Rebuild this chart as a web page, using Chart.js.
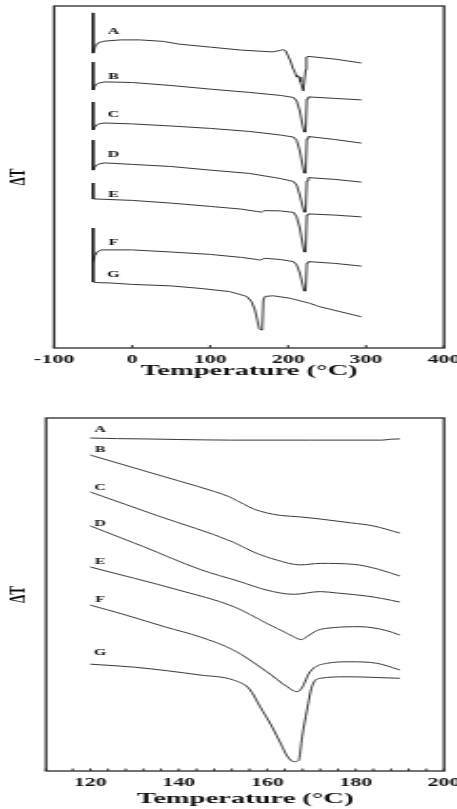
<!DOCTYPE html>
<html>
<head>
<meta charset="utf-8">
<script src="https://cdn.jsdelivr.net/npm/chart.js@4.4.1/dist/chart.umd.min.js"></script>
<style>
  body { margin: 0; background: #fff; }
  canvas { position: absolute; left: 0; }
</style>
</head>
<body>
<!-- the original figure is stretched sideways, so each chart is drawn narrow and widened by css -->
<canvas id="topChart" width="240" height="390" style="top:0px;width:457px;height:390px"></canvas>
<canvas id="bottomChart" width="240" height="419" style="top:390px;width:457px;height:419px"></canvas>
<script>
const curveNames = ['A', 'B', 'C', 'D', 'E', 'F', 'G'];

// full scan, -50 .. 300 C   [temperature, dT (arb. units)]
const topA = [[-50,111.7],[-50,98.3],[-47,100.7],[-43,101.8],[-35,102.3],[-15,102.7],[10,102.7],[40,102.2],[60,101.3],[100,100.3],[140,99.3],[180,98.7],[190,99.2],[194,99.5],[197,99],[200,97.3],[203,95.7],[206,93.3],[209,91.7],[211,90.3],[212.5,90.8],[214,90.3],[216,88.7],[218,87],[219.5,85.7],[221,85.7],[222.5,92.7],[223.5,97],[226,97.2],[260,96.3],[294,95]];
const topB = [[-50,95.3],[-50,86],[-47,87.7],[-43,88.3],[-35,88.7],[0,88.5],[50,87.5],[100,86.3],[150,85.2],[190,84.2],[207,83.5],[211,82.3],[215,79],[218.5,74.3],[220.5,72],[222.5,72],[224,83],[226,83.7],[260,83.2],[294,82.7]];
const topC = [[-50,82],[-50,72.7],[-47,74],[-43,74.7],[-35,75],[0,74.7],[50,74],[100,73.2],[150,72.2],[190,71],[207,70.3],[211,69.2],[215,65.7],[218.5,61],[220.5,58.3],[222.5,58.3],[224,69.7],[226,70.5],[260,69.5],[294,68.3]];
const topD = [[-50,69.3],[-50,59.3],[-47,60.7],[-43,61.3],[-35,61.7],[0,61.2],[50,60.5],[100,59.3],[150,58.2],[190,56.5],[207,55.5],[211,54.3],[215,51],[218.5,47.3],[220.5,45.3],[222.5,45.3],[224,55.7],[226,56.8],[260,56.2],[294,55.3]];
const topE = [[-50,55],[-50,49.7],[-40,49.6],[0,49.2],[50,48.3],[100,47.2],[140,46.3],[160,45.5],[166,45.3],[170,45.8],[190,45.7],[207,45.2],[211,43.7],[215,40],[218.5,35],[220.5,32],[222.5,32],[224,44.3],[226,44.7],[260,44.3],[294,43.7]];
const topF = [[-50,40],[-50,28.7],[-48,30.7],[-45,32],[-40,32.7],[0,32.7],[50,32],[100,31.2],[140,30.2],[160,29.5],[164,29.3],[170,29.9],[190,29.5],[207,28.8],[211,27.7],[215,25],[218.5,21.3],[220.5,19],[222.5,19],[224,28.3],[226,28.8],[260,28.2],[294,27.3]];
const topG = [[-50,28.7],[-50,22],[-45,21.8],[-30,21.7],[0,21.2],[50,20.7],[90,19.8],[125,18.8],[147,17.2],[153,15.5],[157.5,12.7],[160.5,9.3],[163,6.5],[165.3,6],[167,7.2],[168.3,16],[170.5,17.2],[181,17.4],[202,16.6],[228,14.9],[240,13.8],[294,10.4]];
const topTicks = [-100, 0, 100, 200, 300, 400];
const topLabelT = -24;
const topLabelY = [105.3, 90.3, 77.7, 64.3, 51, 35, 24.3];

// zoom on melting region, 120 .. 190 C
const botA = [[120,111],[126,110.8],[132,110.7],[140,110.5],[152,110.3],[170,110.3],[186,110.3],[188,110.6],[190,110.7]];
const botB = [[120,105.3],[130,101],[140,96.7],[148,93.2],[151.6,91.3],[154.6,89],[157,87.3],[160,86],[163,85.2],[167.5,84.7],[172,84],[179,82.7],[184,81.7],[190,79.3]];
const botC = [[120,93],[135,85.2],[152.3,76.3],[156.9,73],[162.2,70.3],[167.5,68.7],[172,69.2],[179.5,68.9],[185,67.3],[190,65]];
const botD = [[120,81.7],[132,74.8],[144.8,67.2],[153.9,63.1],[159.9,60.3],[166,58.9],[172,59.8],[176,59.3],[182.6,58.3],[186,57.5],[190,56.3]];
const botE = [[120,68],[140,60.3],[152.4,54.8],[159.9,49.2],[164.5,45.9],[166.7,44.2],[167.8,43.8],[169,44.8],[171.2,46.8],[175,47.8],[181,48.1],[187,46.8],[190,45.3]];
const botF = [[120,55.3],[128,52],[137,48],[144.8,44.7],[152.4,40.3],[159.9,33.1],[164.5,28.1],[166.7,26.4],[167.8,27.6],[169.7,33.1],[173.5,35.9],[178.8,36.4],[184.8,35.9],[190,33.7]];
const botG = [[120,35.6],[130,34.6],[144.8,32],[152.4,30.3],[156,27.3],[158.4,21.4],[161,15],[163.2,8.7],[164.5,5],[166,3.1],[167.1,3.5],[167.9,11.4],[169,20.3],[170.1,28.1],[172,30.9],[178,31.4],[190,30.9]];
const botTicks = [120, 140, 160, 180, 200];
const botLabelT = 122.2;
const botLabelY = [113.7, 107, 94.3, 82.3, 69.7, 57, 39.3];

const serif = '"Liberation Serif", "Times New Roman", serif';

// box round the plot, small inward ticks, and the A..G names
const framePlugin = {
  id: 'frame',
  afterDraw(chart, args, opts) {
    const ctx = chart.ctx;
    const a = chart.chartArea;
    const x = chart.scales.x, y = chart.scales.y;
    ctx.save();
    ctx.strokeStyle = '#2a2a2a';
    ctx.lineWidth = 1.3;
    ctx.strokeRect(a.left, a.top, a.right - a.left, a.bottom - a.top);
    ctx.lineWidth = 1;
    x.ticks.forEach(t => {
      const px = x.getPixelForValue(t.value);
      ctx.beginPath();
      ctx.moveTo(px, a.bottom);
      ctx.lineTo(px, a.bottom - opts.tickLen);
      ctx.stroke();
    });
    ctx.fillStyle = '#111';
    ctx.font = 'bold 8.5px ' + serif;
    ctx.textAlign = 'center';
    ctx.textBaseline = 'middle';
    curveNames.forEach((n, i) => {
      ctx.fillText(n, x.getPixelForValue(opts.labelT), y.getPixelForValue(opts.labelY[i]));
    });
    ctx.restore();
  }
};

function makeChart(id, series, box) {
  const ctx = document.getElementById(id).getContext('2d');
  return new Chart(ctx, {
    type: 'line',
    data: {
      datasets: series.map((s, i) => ({
        label: curveNames[i],
        data: s.map(p => ({ x: p[0], y: p[1] })),
        borderColor: '#141414',
        borderWidth: 0.85,
        pointRadius: 0,
        tension: 0,
        cubicInterpolationMode: box.smooth ? 'monotone' : 'default',
        fill: false
      }))
    },
    options: {
      responsive: false,
      animation: false,
      events: [],
      layout: { padding: { left: 0, right: 6.8, top: box.top, bottom: 0 } },
      plugins: {
        legend: { display: false },
        tooltip: { enabled: false },
        frame: { tickLen: box.tickLen, labelT: box.labelT, labelY: box.labelY }
      },
      scales: {
        x: {
          type: 'linear',
          min: box.min,
          max: box.max,
          grid: { display: false },
          border: { display: false },
          ticks: {
            stepSize: box.step,
            autoSkip: false,
            maxRotation: 0,
            padding: -3,
            color: '#111',
            font: { family: serif, size: 11.5, weight: 'bold' },
            callback: v => box.ticks.includes(v) ? String(v) : ''
          },
          title: {
            display: true,
            text: 'Temperature (°C)',
            color: '#111',
            font: { family: serif, size: 15, weight: 'bold' },
            padding: { top: 0, bottom: box.titlePad }
          },
          afterFit(s) { s.height = box.xHeight; s.paddingLeft = 0; s.paddingRight = 0; }
        },
        y: {
          min: 0,
          max: box.yMax,
          grid: { display: false },
          border: { display: false },
          ticks: { display: false },
          title: {
            display: true,
            text: 'ΔT',
            color: '#111',
            font: { family: serif, size: 13, weight: 'bold' },
            padding: { top: 1.5, bottom: 0 }
          },
          afterFit(s) { s.width = box.yWidth; }
        }
      }
    },
    plugins: [framePlugin]
  });
}

document.addEventListener('DOMContentLoaded', function () {
  makeChart('topChart', [topA, topB, topC, topD, topE, topF, topG], {
    min: -100, max: 400, step: 100, ticks: topTicks, yMax: 114,
    top: 6, xHeight: 42, yWidth: 28.4, titlePad: 10, tickLen: 3,
    labelT: topLabelT, labelY: topLabelY, smooth: false
  });
  makeChart('bottomChart', [botA, botB, botC, botD, botE, botF, botG], {
    min: 110, max: 200, step: 4, ticks: botTicks, yMax: 117.67,
    top: 28, xHeight: 38, yWidth: 24.2, titlePad: 1, tickLen: 2.5,
    labelT: botLabelT, labelY: botLabelY, smooth: true
  });
});
</script>
</body>
</html>
